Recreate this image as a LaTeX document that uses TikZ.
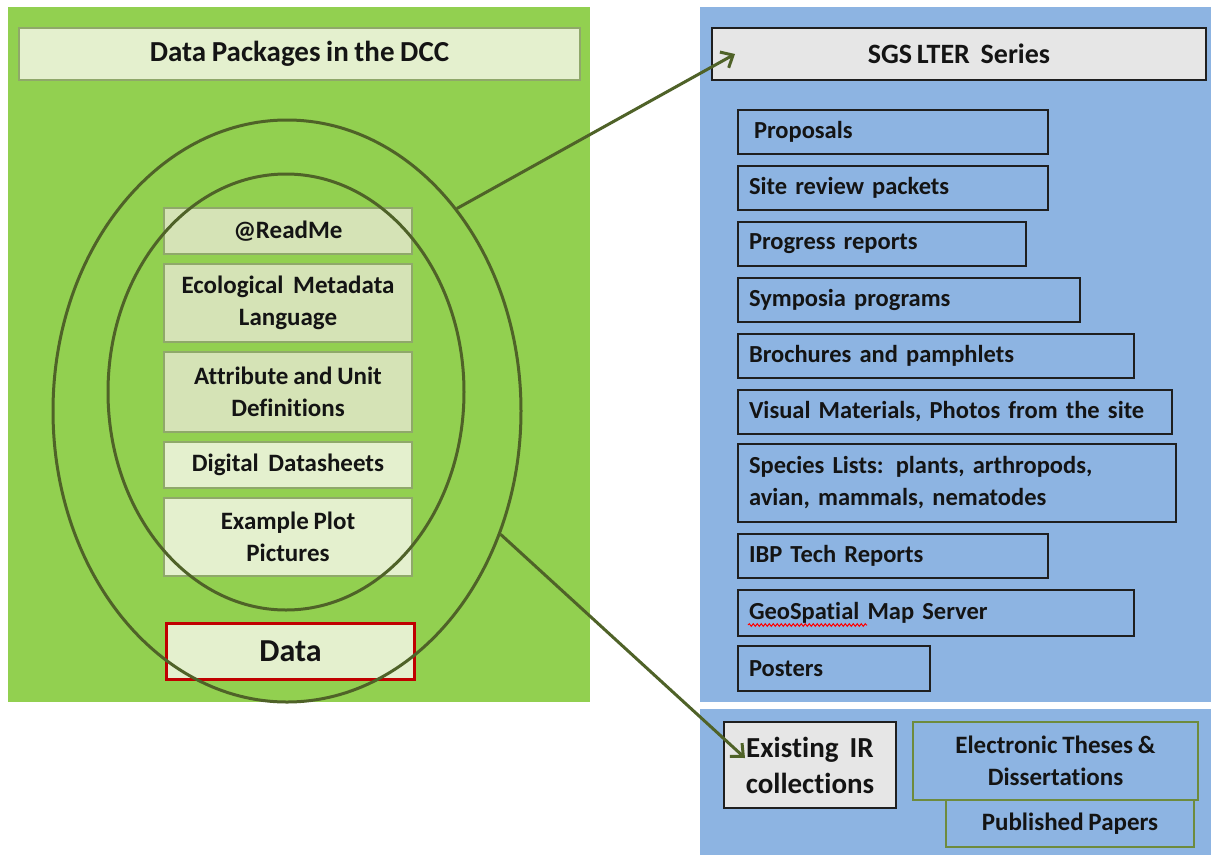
\documentclass[tikz,border=0pt]{standalone}
\usepackage{fontspec}
\setmainfont{Carlito}[Ligatures=NoCommon, WordSpace=0.85]
\usetikzlibrary{shapes.geometric,arrows.meta,decorations.pathmorphing}
\definecolor{panelgreen}{HTML}{92D050}
\definecolor{panelblue}{HTML}{8DB4E2}
\definecolor{titlefill}{HTML}{E4F0CE}
\definecolor{titleline}{HTML}{8FA86A}
\definecolor{boxdark}{HTML}{D5E3B6}
\definecolor{boxlight}{HTML}{E4F0CE}
\definecolor{boxline}{HTML}{8FA86A}
\definecolor{ringline}{HTML}{4F6228}
\definecolor{greyfill}{HTML}{E6E6E6}
\definecolor{listline}{HTML}{1F1F1F}
\definecolor{etdline}{HTML}{6E8B3D}
\definecolor{datared}{HTML}{C00000}
\definecolor{txt}{HTML}{141414}
\begin{document}
\begin{tikzpicture}[x=1pt,y=-1pt,
  every node/.style={text=txt},
  lbox/.style={draw=boxline, line width=2pt, rectangle, anchor=north west, inner sep=0pt, align=center,
    minimum width=248pt, font=\fontsize{25}{32}\selectfont\bfseries},
  lst/.style={draw=listline, line width=2pt, rectangle, anchor=north west, inner ysep=0pt, inner xsep=11pt,
    align=left, minimum height=44pt, font=\fontsize{24.5}{32}\selectfont\bfseries},
  ring/.style={draw=ringline, line width=3pt, ellipse, inner sep=0pt},
  conn/.style={draw=ringline, line width=3pt, -{Straight Barb[length=10pt,width=18pt]}}
]
\useasboundingbox (0,0) rectangle (1211,855);
\fill[white] (0,0) rectangle (1211,855);
% panels
\fill[panelgreen] (8,7) rectangle (590,702);
\fill[panelblue] (700,7) rectangle (1211,702);
\fill[panelblue] (700,709) rectangle (1211,855);
% left side
\node[draw=titleline, fill=titlefill, line width=2pt, anchor=north west, minimum width=561pt, minimum height=52pt,
  inner sep=0pt, font=\fontsize{29}{34}\selectfont\bfseries] (dcc) at (18,27) {\raisebox{-2pt}{Data Packages in the DCC}};
\node[lbox, fill=boxdark, minimum height=46pt] (readme) at (163,207) {@ReadMe};
\node[lbox, fill=boxdark, minimum height=78pt] (eml) at (163,263) {Ecological\ \ Metadata\\Language};
\node[lbox, fill=boxdark, minimum height=80pt] (attr) at (163,351) {Attribute and Unit\\Definitions};
\node[lbox, fill=boxlight, minimum height=46pt] (dds) at (163,441) {Digital\ \ Datasheets};
\node[lbox, fill=boxlight, minimum height=78pt] (plot) at (163,497) {Example Plot\\Pictures};
\node[lbox, draw=datared, line width=3pt, fill=boxlight, minimum height=56pt, font=\fontsize{32}{36}\selectfont\bfseries] (data) at (165,622) {Data};
\node[ring, minimum width=356pt, minimum height=436pt] (inner) at (286,392) {};
\node[ring, minimum width=468pt, minimum height=582pt] (outer) at (287,411) {};
% right side
\node[draw=listline, fill=greyfill, line width=2pt, anchor=north west, minimum width=494pt, minimum height=52pt,
  inner sep=0pt, font=\fontsize{28}{34}\selectfont\bfseries] (sgs) at (711,27) {\raisebox{-2pt}{SGS\,LTER\ \ Series}};
\node[lst, text width=288pt] (prop) at (737,109) {\hspace*{5pt}Proposals};
\node[lst, text width=288pt] (site) at (737,165) {Site review packets};
\node[lst, text width=266pt] (prog) at (737,221) {Progress reports};
\node[lst, text width=320pt] (symp) at (737,277) {Symposia programs};
\node[lst, text width=374pt] (broch) at (737,333) {Brochures and pamphlets};
\node[lst, text width=412pt] (vis) at (737,389) {Visual Materials, Photos from the site};
\node[lst, text width=416pt, minimum height=78pt] (spec) at (737,443) {Species Lists: plants, arthropods,\\avian, mammals, nematodes};
\node[lst, text width=288pt] (ibp) at (737,533) {IBP Tech Reports};
\node[lst, text width=374pt, minimum height=46pt] (geo) at (737,589) {GeoSpatial Map Server};
\node[lst, text width=170pt, minimum height=45pt] (post) at (737,645) {Posters};
\draw[red, line width=1pt, decorate, decoration={snake, amplitude=1.3pt, segment length=4pt}]
  ([xshift=11pt,yshift=12pt]geo.south west) -- ([xshift=130pt,yshift=12pt]geo.south west);
\node[draw=listline, fill=greyfill, line width=2pt, anchor=north west, minimum width=172pt, minimum height=86pt,
  inner sep=0pt, align=center, font=\fontsize{29}{36}\selectfont\bfseries] (ir) at (723,721) {Existing\ \ IR\\collections};
\node[draw=etdline, line width=2pt, anchor=north west, minimum width=248pt, minimum height=47pt,
  inner sep=0pt, font=\fontsize{25}{30}\selectfont\bfseries] (pub) at (945,799) {Published Papers};
\node[draw=etdline, line width=2pt, anchor=north west, minimum width=285pt, minimum height=78pt,
  inner sep=0pt, align=center, font=\fontsize{25}{32}\selectfont\bfseries] (etd) at (912,721) {Electronic Theses \&\\Dissertations};
% connectors
\draw[conn] (outer.50) -- ([xshift=24pt]sgs.west);
\draw[conn] (outer.-30) -- ([xshift=22pt,yshift=7pt]ir.west);
\end{tikzpicture}
\end{document}
